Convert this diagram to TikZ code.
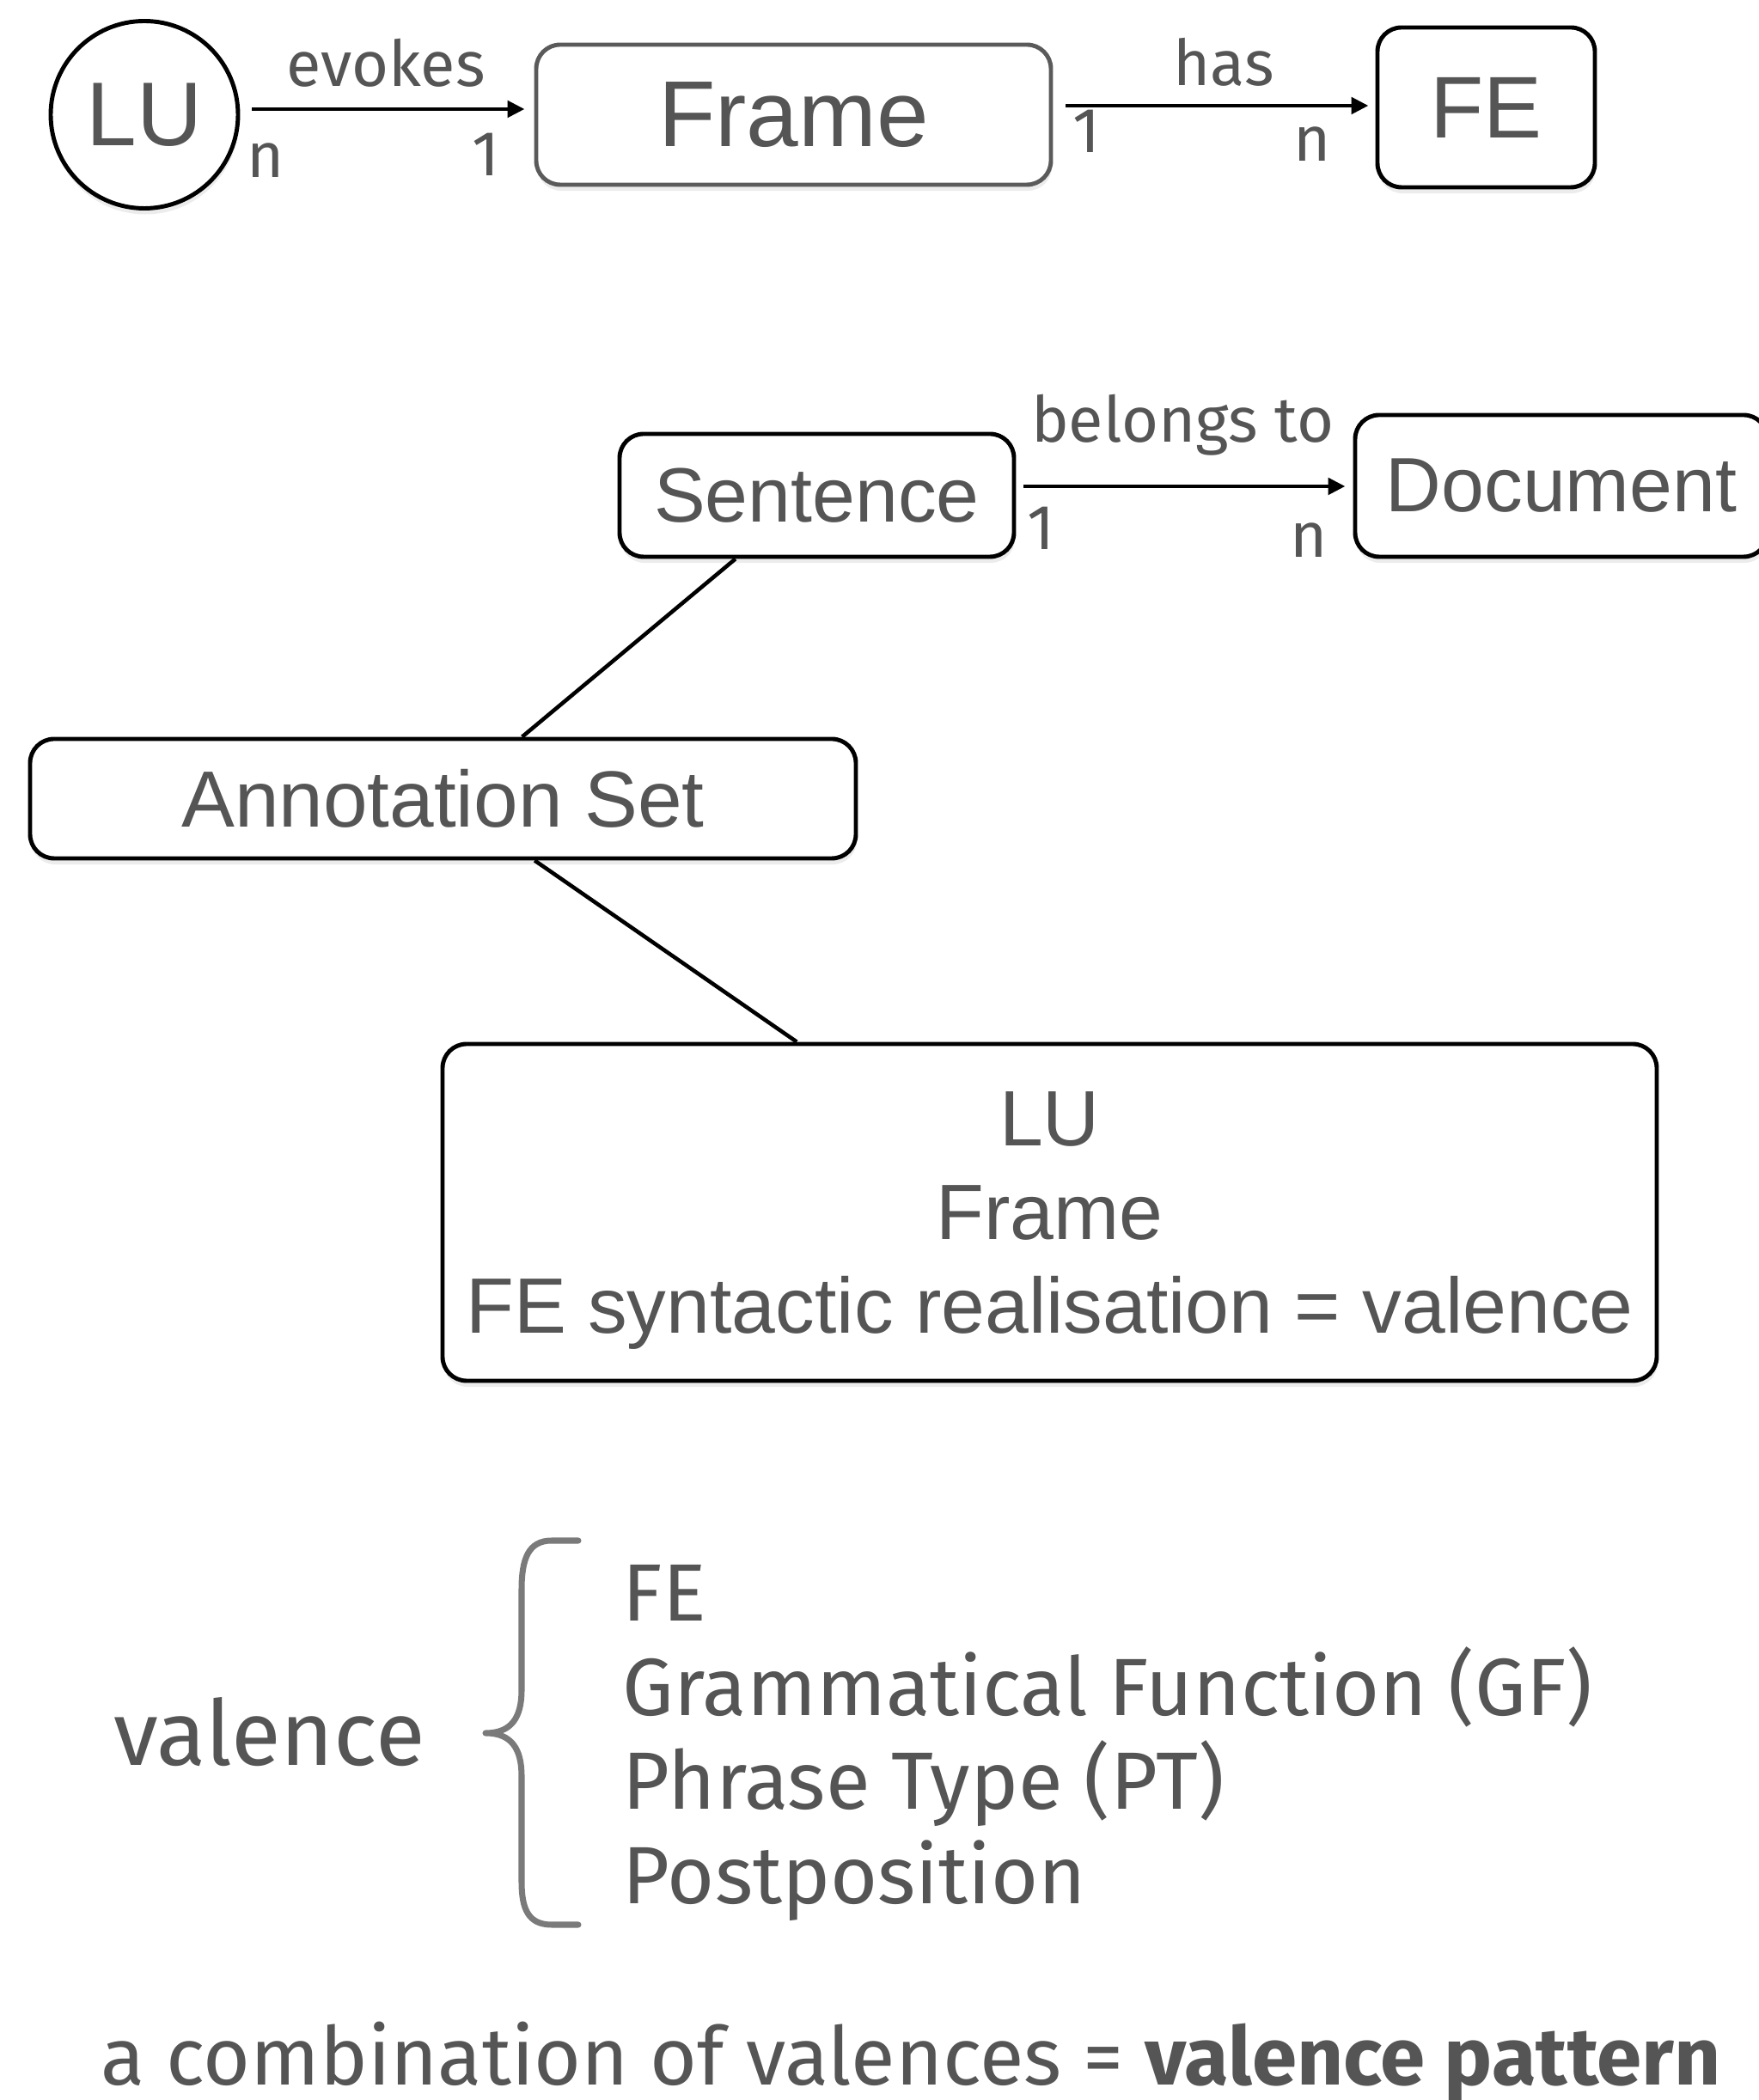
\documentclass[tikz,border=0pt]{standalone}
\usepackage{fontspec}
\setmainfont{Liberation Sans}
\newfontfamily\labelfont{Fira Sans}
\usetikzlibrary{arrows.meta,shadows}
\definecolor{textgray}{HTML}{555555}
\definecolor{framegray}{HTML}{5A5A5A}
\definecolor{bracegray}{HTML}{7A7A7A}

\begin{document}
\begin{tikzpicture}[
    entity/.style={rectangle, rounded corners=0.28cm, draw=black, line width=1.4pt, fill=white, text=textgray, inner sep=0pt,
        drop shadow={shadow xshift=0.3pt, shadow yshift=-2pt, opacity=0.15}},
    edge/.style={draw, line width=1.4pt, -{Triangle[length=2mm, width=1.9mm]}},
    link/.style={draw, line width=1.3pt},
    rel/.style={font=\labelfont\fontsize{21}{25}\selectfont, text=textgray},
    card/.style={font=\labelfont\fontsize{21}{25}\selectfont, text=textgray},
    item/.style={font=\labelfont\fontsize{26.9}{31}\selectfont, text=textgray, inner sep=0pt, anchor=base west}
]
\useasboundingbox (0,0) rectangle (20.47,24.44);

% Define entities
\node[entity, circle, minimum size=2.18cm, font=\fontsize{30}{36}\selectfont] (LU) at (1.68, 23.105) {LU};
\node[entity, draw=framegray, minimum width=5.99cm, minimum height=1.63cm, font=\fontsize{31}{37}\selectfont] (Frame) at (9.235, 23.105) {Frame};
\node[entity, minimum width=2.53cm, minimum height=1.86cm, font=\fontsize{29}{35}\selectfont] (FE) at (17.295, 23.19) {FE};
\node[entity, minimum width=4.59cm, minimum height=1.43cm, font=\fontsize{25.5}{31}\selectfont] (Sentence) at (9.505, 18.675) {Sentence};
\node[entity, minimum width=4.80cm, minimum height=1.65cm, font=\fontsize{25.5}{31}\selectfont] (Document) at (18.17, 18.785) {Document};
\node[entity, minimum width=9.61cm, minimum height=1.39cm, font=\fontsize{26.4}{31}\selectfont] (AnnoSet) at (5.155, 15.145) {Annotation Set};
\node[entity, minimum width=14.13cm, minimum height=3.92cm, align=center, text depth=0pt, font=\fontsize{26}{30.9}\selectfont] (Info) at (12.215, 10.33)
    {LU\\Frame\\FE syntactic realisation = valence};

% Define relations
\path[edge, shorten <=1.4mm, shorten >=1.1mm] ([yshift=0.65mm]LU.east) --
    node[rel, pos=0.496, yshift=0.54cm] (evokes) {evokes}
    node[card, pos=0.086, yshift=-0.60cm] (evokesN) {n}
    node[card, pos=0.836, yshift=-0.53cm] (evokes1) {1}
    ([yshift=0.65mm]LU.east -| Frame.west);
\path[edge, shorten <=1.5mm, shorten >=0.8mm] ([yshift=1.05mm]Frame.east) --
    node[rel, pos=0.529, yshift=0.51cm] (has) {has}
    node[card, pos=0.103, yshift=-0.30cm] (has1) {1}
    node[card, pos=0.803, yshift=-0.45cm] (hasN) {n}
    ([yshift=1.05mm]Frame.east -| FE.west);
\path[edge, shorten <=0.9mm, shorten >=0.9mm] ([yshift=1.05mm]Sentence.east) --
    node[rel, pos=0.494, yshift=0.71cm] (belongs) {belongs to}
    node[card, pos=0.073, yshift=-0.49cm] (belongs1) {1}
    node[card, pos=0.869, yshift=-0.63cm] (belongsN) {n}
    ([yshift=1.05mm]Sentence.east -| Document.west);

% Define links
\path[link] (Sentence.218) -- (AnnoSet.38);
\path[link] (AnnoSet.-34) -- (Info.146);

% valence
\node[font=\labelfont\fontsize{30}{36}\selectfont, text=textgray, anchor=base] (valence) at (3.135, 3.89) {valence};
\draw[bracegray, line width=2pt, line cap=round, line join=round]
    (6.73,6.51) -- (6.42,6.51) .. controls (6.15,6.51) and (6.07,6.30) .. (6.07,5.94)
    -- (6.07,4.77) .. controls (6.07,4.45) and (5.95,4.27) .. (5.65,4.27)
    .. controls (5.95,4.27) and (6.07,4.09) .. (6.07,3.77)
    -- (6.07,2.54) .. controls (6.07,2.22) and (6.15,2.04) .. (6.42,2.04) -- (6.73,2.04);
\foreach \txt [count=\i] in {FE, Grammatical Function (GF), Phrase Type (PT), Postposition}
    \node[item] (item\i) at (7.24, 5.57-1.095*\i+1.095) {\txt};

\node[font=\labelfont\fontsize{26.8}{32}\selectfont, text=textgray, anchor=base] (pattern) at (10.60, 0.17)
    {a combination of valences = \textbf{valence pattern}};

\end{tikzpicture}
\end{document}
